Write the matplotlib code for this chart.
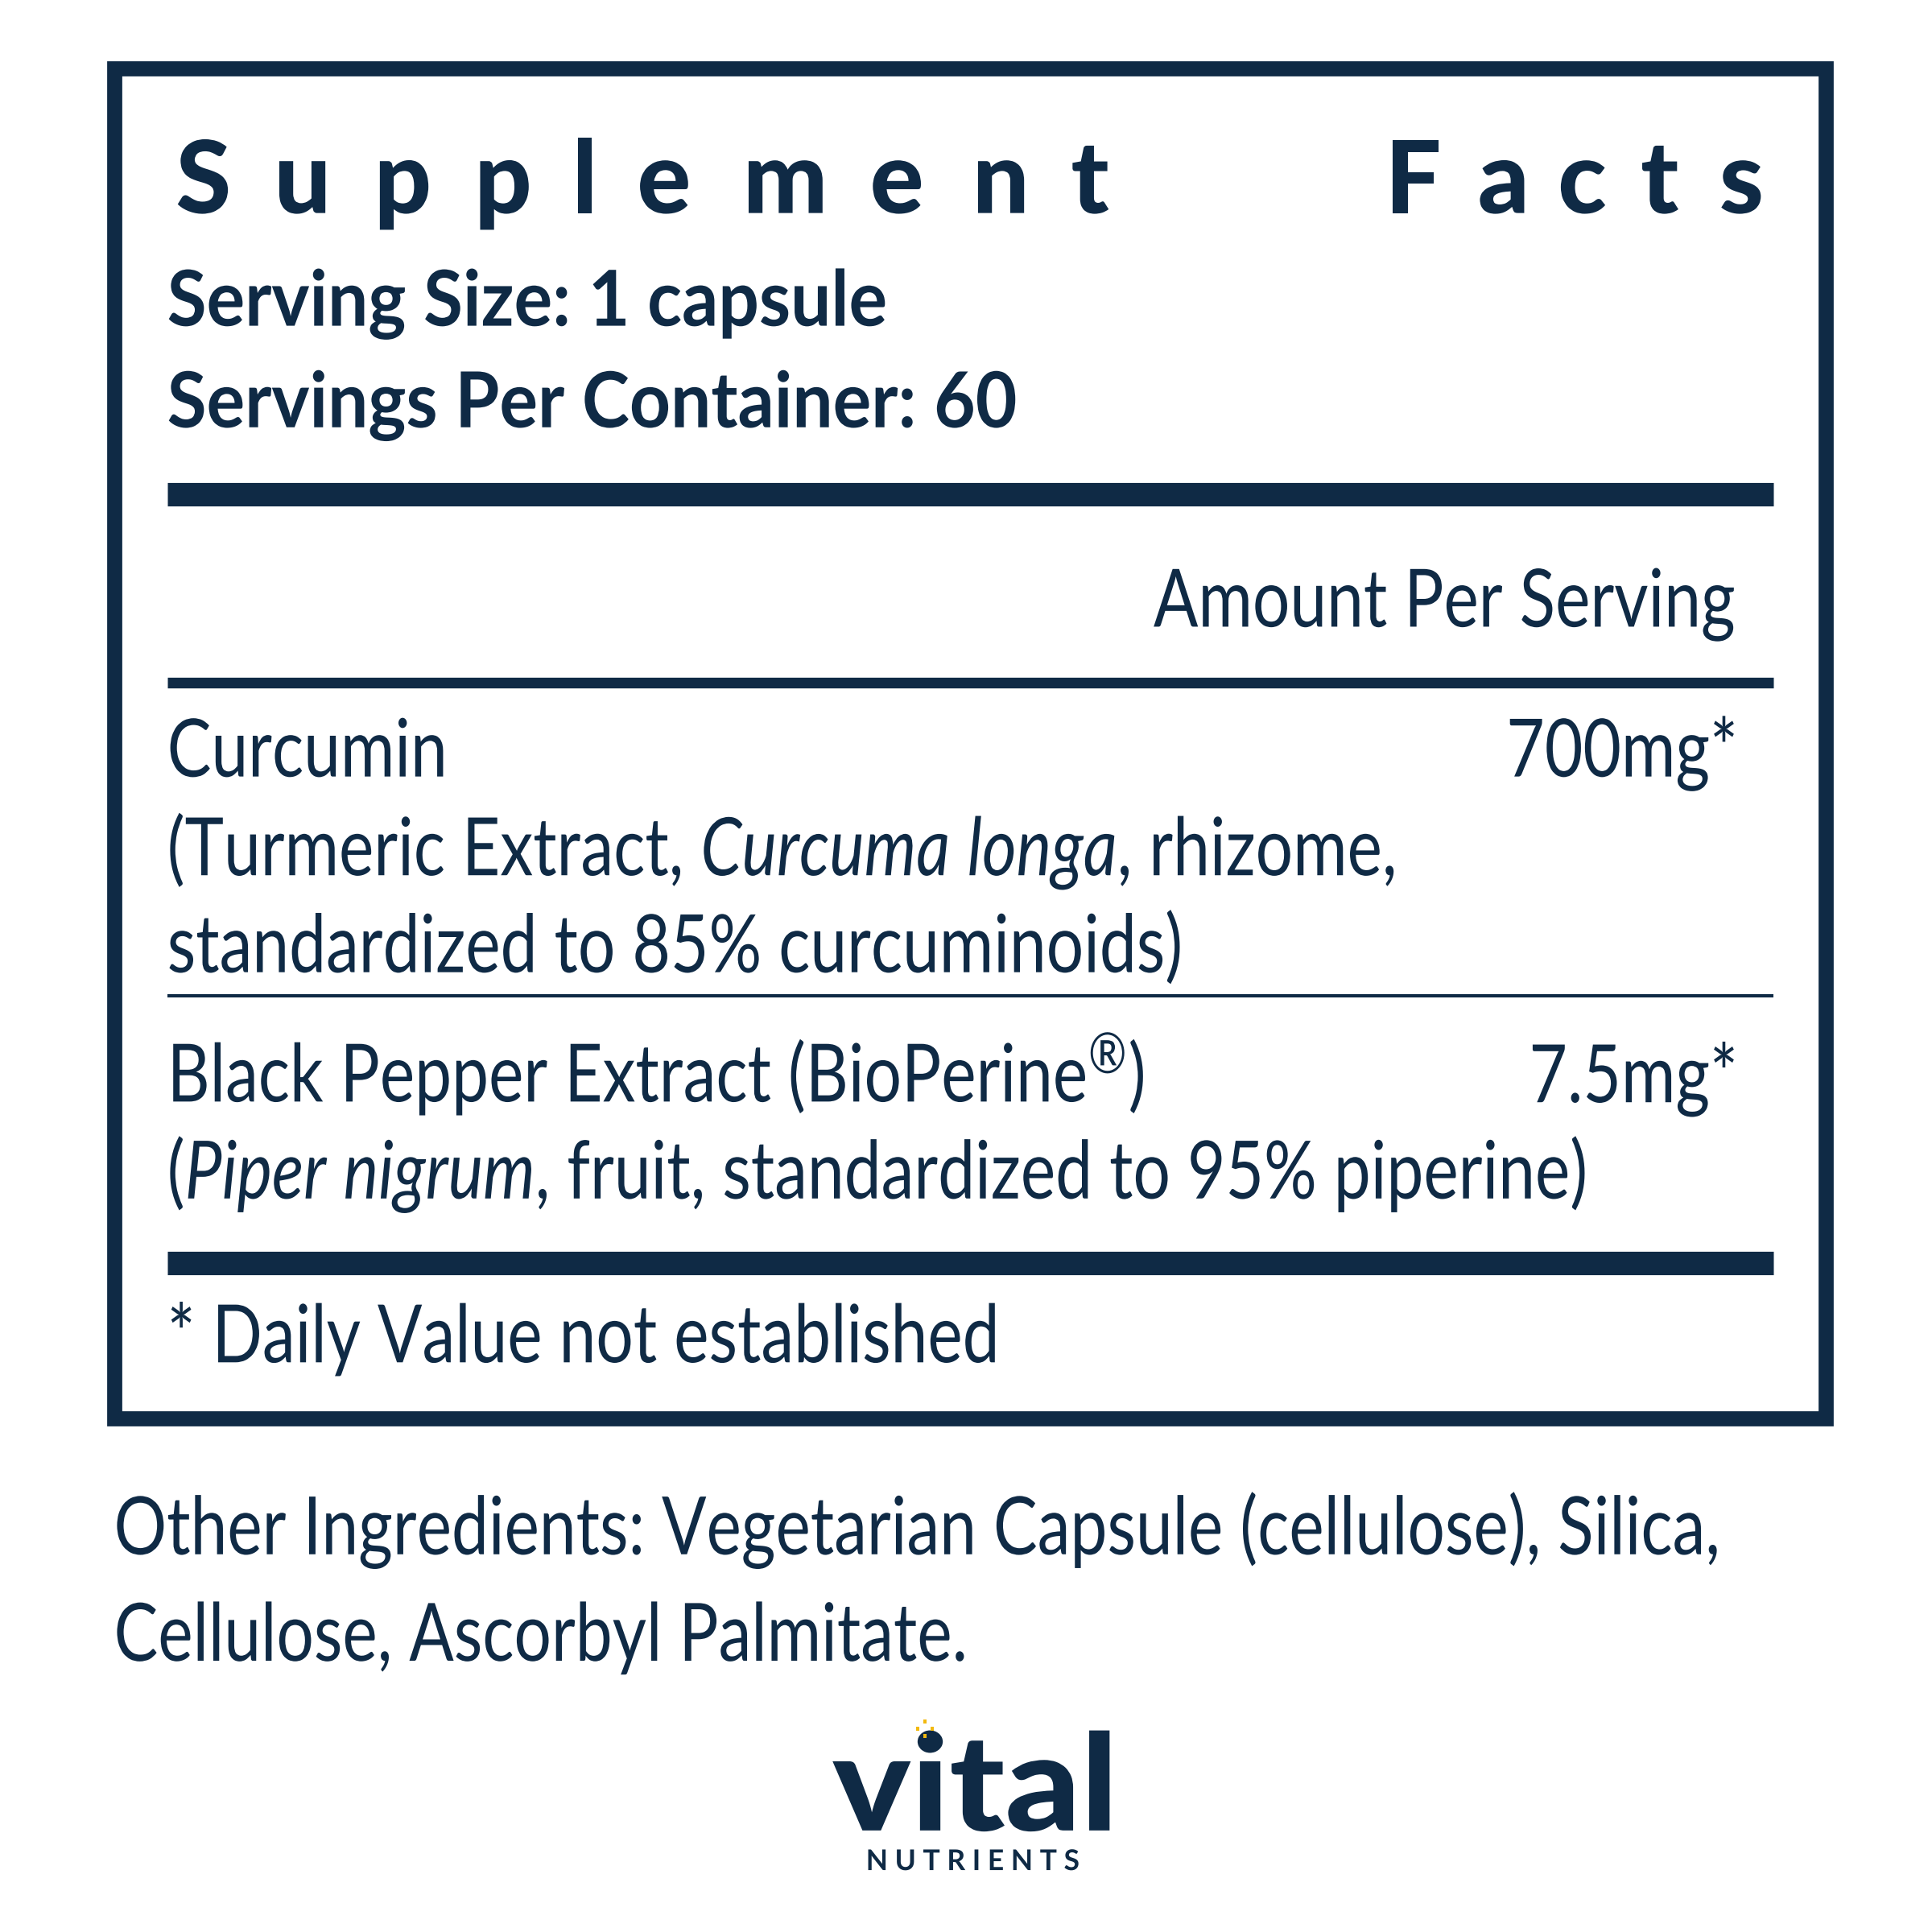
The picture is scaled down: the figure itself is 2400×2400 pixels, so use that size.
import matplotlib
matplotlib.use("Agg")
import matplotlib.pyplot as plt
from matplotlib.patches import Rectangle, PathPatch
from matplotlib.lines import Line2D
from matplotlib.textpath import TextPath
from matplotlib.font_manager import FontProperties
from matplotlib.transforms import Affine2D

title_letters = list("Supplement") + [""] + list("Facts")
serving_lines = ["Serving Size: 1 capsule", "Servings Per Container: 60"]
amount_header = "Amount Per Serving"
ingredients = [
    ["Curcumin", "(Turmeric Extract, $\\it{Curcuma\\ longa}$, rhizome,", "standardized to 85% curcuminoids)"],
    ["Black Pepper Extract (BioPerine$^{®}$)", "($\\it{Piper\\ nigrum}$, fruit, standardized to 95% piperine)"],
]
amounts = ["700mg*", "7.5mg*"]
footnote = "* Daily Value not established"
other = ["Other Ingredients: Vegetarian Capsule (cellulose), Silica,", "Cellulose, Ascorbyl Palmitate."]

C = "#0f2a45"
FAMILY = "Lato"
plt.rcParams["mathtext.fontset"] = "custom"
plt.rcParams["mathtext.it"] = "Lato:italic"
plt.rcParams["mathtext.rm"] = "Lato"

DPI = 300
fig = plt.figure(figsize=(8, 8), dpi=DPI)
S = 1560.0
K = 2400 / S
def X(p): return p / S
def Y(p): return 1 - p / S

def T(x, y, s, size, ha="left", weight="normal", sx=0.82, color=C, family=FAMILY):
    prop = FontProperties(family=family, weight=weight)
    tp = TextPath((0, 0), s, size=size, prop=prop)
    ext = tp.get_extents()
    sc = DPI / 72.0
    w = (ext.x1) * sc * sx
    px = x * K
    if ha == "right":
        px -= w
    elif ha == "center":
        px -= w / 2
    py = 2400 - y * K
    tr = Affine2D().scale(sc * sx, sc).translate(px, py)
    patch = PathPatch(tr.transform_path(tp), fc=color, ec="none",
                      transform=matplotlib.transforms.IdentityTransform())
    fig.patches.append(patch)

fig.patches.append(Rectangle((X(92), Y(1145)), X(1474) - X(92), Y(55) - Y(1145),
                             transform=fig.transFigure, fill=False, ec=C, lw=4.5))
def hline(y, lw, x0=135, x1=1432):
    fig.lines.append(Line2D([X(x0), X(x1)], [Y(y), Y(y)], transform=fig.transFigure,
                            color=C, lw=lw, solid_capstyle="butt"))

xs = [163, 242, 324, 405, 470, 535, 632, 723, 806, 880, None, 1140, 1212, 1277, 1340, 1405]
for ch, x in zip(title_letters, xs):
    if x is not None:
        T(x, 172, ch, 30, ha="center", weight="black", sx=1.0)
T(135, 263, serving_lines[0], 23, weight="bold", sx=0.93)
T(135, 345, serving_lines[1], 23, weight="bold", sx=0.93)
hline(399, 7)
T(1400, 506, amount_header, 24, ha="right")
hline(551, 3.2)
T(135, 627, ingredients[0][0], 24)
T(1400, 627, amounts[0], 24, ha="right")
T(135, 707, ingredients[0][1], 24)
T(135, 785, ingredients[0][2], 24)
hline(804, 1.0)
T(135, 890, ingredients[1][0], 24)
T(1400, 890, amounts[1], 24, ha="right")
T(135, 968, ingredients[1][1], 24)
hline(1020, 7)
T(135, 1100, footnote, 24)
T(92, 1255, other[0], 24)
T(92, 1341, other[1], 24)

# logo
T(784, 1478, "vital", 40, ha="center", weight="black", sx=1.1)
T(785, 1510, "N U T R I E N T S", 8.5, ha="center", weight="bold", sx=1.0)
T(746, 1404, "⁘", 8, ha="center", weight="bold", sx=1.0, color="#f2b90f", family="DejaVu Sans")

fig.savefig("out.png", dpi=DPI, facecolor="white")
